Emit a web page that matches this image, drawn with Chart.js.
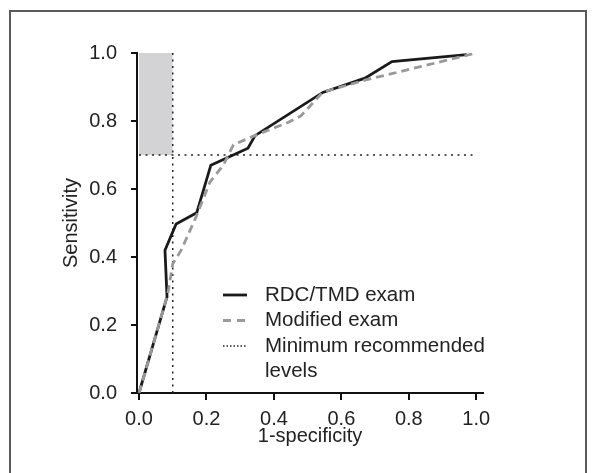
<!DOCTYPE html>
<html>
<head>
<meta charset="utf-8">
<script src="https://cdn.jsdelivr.net/npm/chart.js@4.4.1/dist/chart.umd.min.js"></script>
<style>
    html, body { margin: 0; padding: 0; background: #fff; }
    #wrap { position: relative; width: 592px; height: 473px; overflow: hidden; }
    #frame { position: absolute; left: 9px; top: 10px; width: 574px; height: 480px; border: 2px solid #5a5a5a; }
    canvas { position: absolute; left: 0; top: 0; }
</style>
</head>
<body>
<div id="wrap">
    <div id="frame"></div>
    <canvas id="rocChart" width="592" height="473"></canvas>
</div>
<script>
// ROC curve data (1-specificity, sensitivity)
const rdcX = [0, 0.083, 0.077, 0.11, 0.171, 0.213, 0.323, 0.344, 0.545, 0.67, 0.75, 0.972];
const rdcY = [0, 0.283, 0.42, 0.497, 0.53, 0.67, 0.72, 0.757, 0.884, 0.926, 0.975, 0.995];

const modX = [0, 0.085, 0.10, 0.125, 0.17, 0.21, 0.25, 0.28, 0.35, 0.44, 0.48, 0.545, 0.67, 1.0];
const modY = [0, 0.29, 0.38, 0.42, 0.52, 0.62, 0.67, 0.73, 0.76, 0.795, 0.815, 0.885, 0.92, 1.0];

// Minimum recommended levels
const minSpecX = 0.1;
const minSensY = 0.7;

const tickValues = [0, 0.2, 0.4, 0.6, 0.8, 1.0];
const seriesLabels = ['RDC/TMD exam', 'Modified exam', 'Minimum recommended levels'];

const toPoints = (xs, ys) => xs.map((x, i) => ({ x: x, y: ys[i] }));

const FONT = '"Liberation Sans", Arial, Helvetica, sans-serif';
const INK = '#222';

// Custom legend (multi-line label)
const legendPlugin = {
    id: 'customLegend',
    afterDraw(chart) {
        const ctx = chart.ctx;
        const area = chart.chartArea;
        const x0 = area.left + 86;
        const y0 = area.top + 242;
        const rowH = 25.5;
        const items = [
            { text: [seriesLabels[0]], color: '#1a1a1a', width: 2.8, dash: [] },
            { text: [seriesLabels[1]], color: '#9a9a9a', width: 2.8, dash: [8, 6] },
            { text: ['Minimum recommended', 'levels'], color: '#222', width: 1.3, dash: [1.5, 2] }
        ];
        ctx.save();
        ctx.font = '20.5px ' + FONT;
        ctx.fillStyle = INK;
        ctx.textBaseline = 'middle';
        let row = 0;
        items.forEach(item => {
            const y = y0 + row * rowH;
            ctx.beginPath();
            ctx.strokeStyle = item.color;
            ctx.lineWidth = item.width;
            ctx.setLineDash(item.dash);
            ctx.moveTo(x0, y);
            ctx.lineTo(x0 + 24, y);
            ctx.stroke();
            item.text.forEach((t, i) => ctx.fillText(t, x0 + 42, y + i * rowH));
            row += item.text.length;
        });
        ctx.restore();
    }
};

const ctx = document.getElementById('rocChart');
new Chart(ctx, {
    type: 'line',
    data: {
        datasets: [
            {
                label: seriesLabels[1],
                data: toPoints(modX, modY),
                borderColor: '#999',
                borderWidth: 2.8,
                borderDash: [8, 5],
                pointRadius: 0,
                tension: 0,
                fill: false
            },
            {
                label: seriesLabels[0],
                data: toPoints(rdcX, rdcY),
                borderColor: '#1a1a1a',
                borderWidth: 2.8,
                pointRadius: 0,
                tension: 0,
                fill: false
            },
            {
                label: 'min-x',
                data: [{ x: minSpecX, y: 0 }, { x: minSpecX, y: 1 }],
                borderColor: '#222',
                borderWidth: 1.5,
                borderDash: [2, 4.5],
                pointRadius: 0,
                fill: false
            },
            {
                label: 'min-y',
                data: [{ x: 0, y: minSensY }, { x: 1, y: minSensY }],
                borderColor: '#222',
                borderWidth: 1.5,
                borderDash: [2, 4.5],
                pointRadius: 0,
                fill: false
            },
            {
                label: 'target',
                data: [{ x: 0, y: 1 }, { x: minSpecX, y: 1 }],
                borderWidth: 0,
                borderColor: 'rgba(0,0,0,0)',
                backgroundColor: '#d3d3d5',
                pointRadius: 0,
                fill: { value: minSensY }
            }
        ]
    },
    options: {
        responsive: false,
        animation: false,
        layout: {
            padding: { left: 0, top: 53, right: 109, bottom: 0 }
        },
        plugins: {
            legend: { display: false },
            tooltip: { enabled: false }
        },
        scales: {
            x: {
                type: 'linear',
                min: -0.006,
                max: 1.02,
                afterBuildTicks: scale => { scale.ticks = tickValues.map(v => ({ value: v })); },
                afterFit: scale => { scale.height = 80; },
                border: { display: true, color: '#111', width: 2 },
                grid: { drawOnChartArea: false, drawTicks: true, tickLength: 7, color: '#111', lineWidth: 2 },
                ticks: {
                    padding: 7,
                    color: INK,
                    font: { family: FONT, size: 20 },
                    callback: v => v.toFixed(1),
                    maxRotation: 0
                },
                title: {
                    display: true,
                    text: '1-specificity',
                    color: INK,
                    font: { family: FONT, size: 20 },
                    padding: { top: 0, bottom: 25 }
                }
            },
            y: {
                type: 'linear',
                min: 0,
                max: 1,
                afterBuildTicks: scale => { scale.ticks = tickValues.map(v => ({ value: v })); },
                afterFit: scale => { scale.width = 137; },
                border: { display: true, color: '#111', width: 2 },
                grid: { drawOnChartArea: false, drawTicks: true, tickLength: 6, color: '#111', lineWidth: 2 },
                ticks: {
                    padding: 14,
                    color: INK,
                    font: { family: FONT, size: 20 },
                    callback: v => v.toFixed(1)
                },
                title: {
                    display: true,
                    text: 'Sensitivity',
                    color: INK,
                    font: { family: FONT, size: 20 },
                    padding: { top: 59, bottom: 0 }
                }
            }
        }
    },
    plugins: [legendPlugin]
});
</script>
</body>
</html>
